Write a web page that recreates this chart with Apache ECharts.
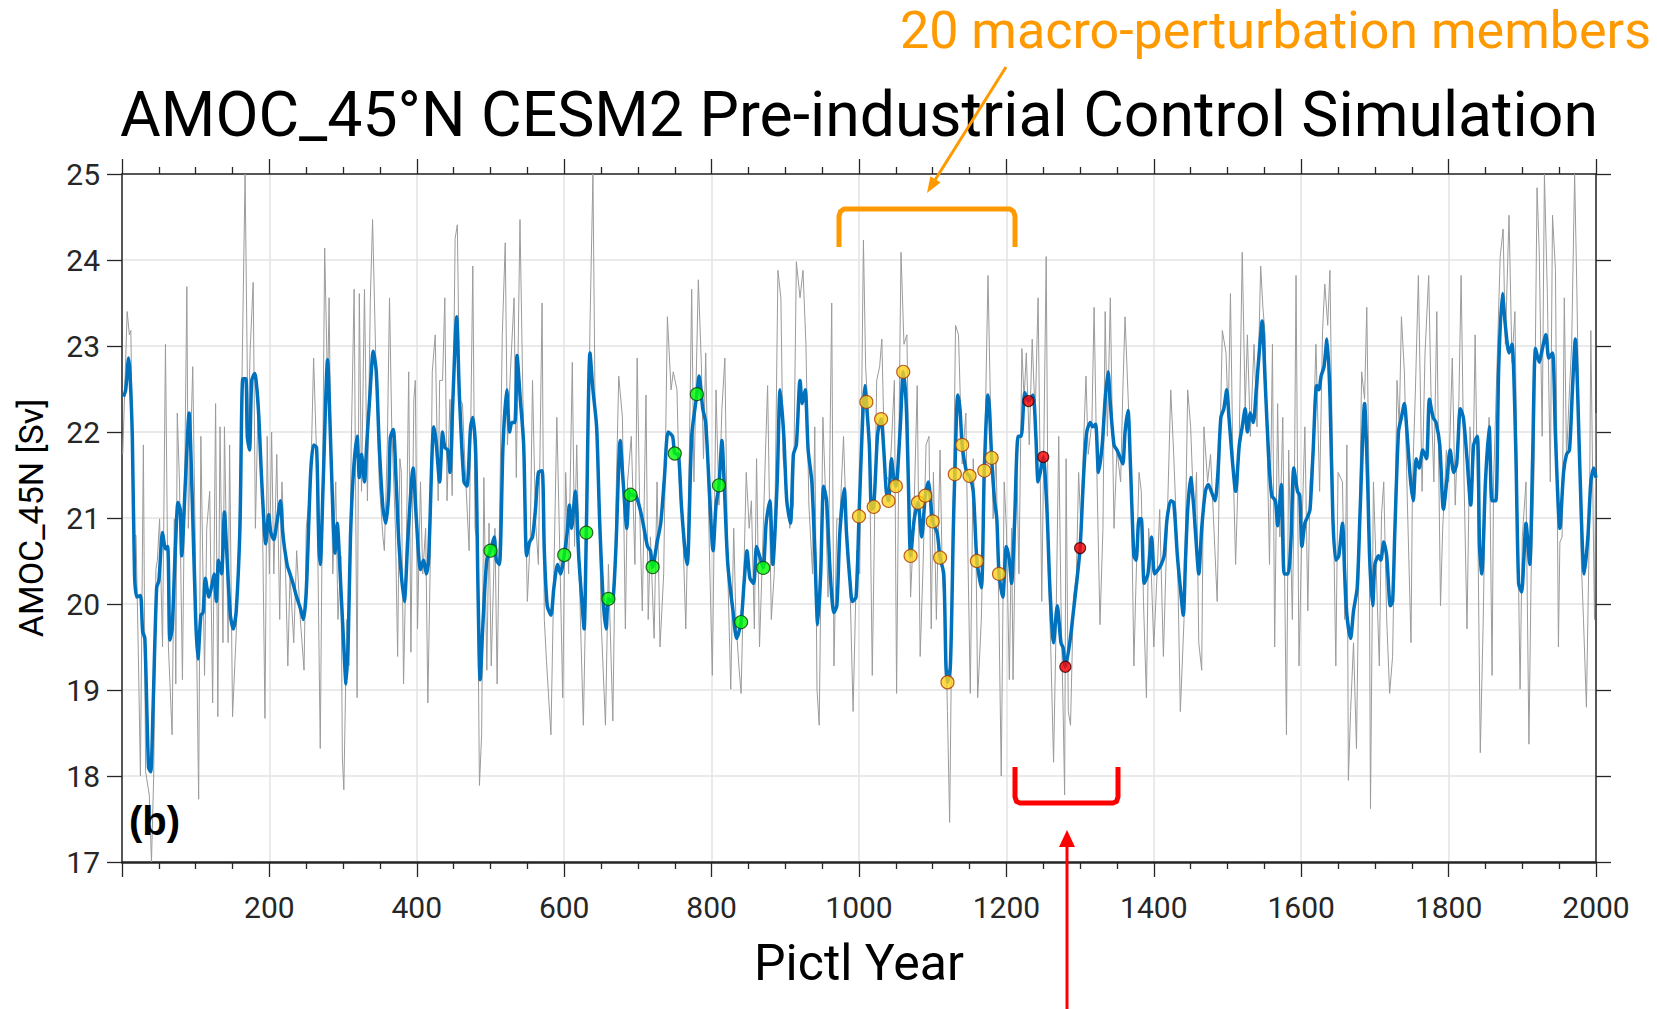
<!DOCTYPE html>
<html lang="en">
<head>
<meta charset="UTF-8">
<title>AMOC_45°N CESM2 Pre-industrial Control Simulation</title>
<script src="https://cdn.jsdelivr.net/npm/echarts@6/dist/echarts.min.js"></script>
<style>
  html, body { margin: 0; padding: 0; background: #fff; }
  #chart { width: 1657px; height: 1009px; }
</style>
</head>
<body>
<div id="chart"></div>
<script>
// annual AMOC at 45N (grey), [year, Sv] (spike tips)
const annualSeries = [
  [1,21.74],[7,23.4],[10,23.13],[12,23.18],[16,20.78],[19,20.8],[22,19.5],[25,18.0],[29,21.85],[32,18.05],[37,17.78],[40,17.0],[43,18.0],[46,20.4],[48,20.51],[51,20.99],[55,19.5],[59,23.02],[63,19.5],[68,18.48],[71,20.99],[73,19.07],[75,22.22],[78,21.42],[82,19.12],[88,23.69],[90,20.88],[96,22.76],[100,20.35],[104,17.73],[107,21.95],[112,19.17],[115,20.88],[119,21.31],[123,18.85],[127,22.33],[130,18.69],[133,22.06],[137,19.55],[139,22.06],[144,19.55],[146,21.85],[150,18.69],[153,19.28],[155,19.66],[159,20.99],[162,22.17],[167,25.0],[171,21.95],[174,22.97],[178,23.74],[181,20.88],[185,22.49],[190,21.42],[194,18.67],[197,21.95],[200,20.35],[203,22.0],[206,20.35],[210,21.74],[214,19.82],[217,21.42],[222,20.35],[225,19.28],[228,20.35],[233,19.55],[237,20.62],[242,19.82],[247,19.23],[250,20.88],[256,21.42],[260,22.86],[264,21.74],[269,18.32],[275,24.14],[279,22.49],[281,23.56],[283,22.06],[286,20.35],[290,21.42],[293,19.82],[297,20.56],[299,18.21],[301,17.84],[305,19.82],[308,19.28],[311,21.85],[315,23.66],[319,18.91],[322,23.61],[325,21.31],[329,23.66],[333,21.2],[337,23.56],[340,24.47],[345,22.6],[349,21.42],[354,20.78],[356,20.62],[360,21.85],[363,23.56],[366,22.06],[371,20.88],[374,19.39],[377,21.69],
  [379,21.53],[382,19.07],[386,20.78],[389,22.7],[392,19.44],[396,22.38],[398,22.6],[401,19.71],[405,21.42],[408,20.35],[412,20.88],[415,18.85],[418,20.35],[421,22.7],[425,23.13],[429,21.2],[431,22.6],[435,22.6],[438,23.56],[441,21.2],[445,22.38],[448,21.26],[452,24.25],[455,24.41],[458,22.38],[462,22.33],[465,21.69],[471,20.62],[476,23.93],[479,20.88],[482,20.72],[485,17.89],[488,18.48],[491,21.47],[495,19.23],[498,20.94],[501,19.28],[506,20.88],[509,19.07],[513,21.42],[516,23.13],[520,24.2],[523,21.85],[527,22.7],[532,23.56],[535,21.47],[540,24.47],[544,22.38],[547,21.42],[550,20.03],[554,20.78],[557,22.6],[561,20.99],[565,20.46],[570,23.5],[573,19.82],[576,19.33],[582,18.48],[586,20.35],[590,22.17],[594,20.62],[598,18.91],[602,21.53],[606,20.35],[611,22.81],[614,20.67],[617,21.85],[622,19.82],[626,18.59],[631,20.88],[635,23.24],[639,25.0],[642,22.22],[647,21.53],[650,19.82],[656,18.59],[660,20.46],[666,18.64],[670,21.1],[674,22.65],[679,22.17],[683,19.71],[686,21.42],[691,21.95],[696,20.46],[699,22.86],[703,20.88],[706,19.92],[711,22.43],[714,19.82],[717,20.78],[722,19.6],[726,21.42],[730,19.5],[735,20.35],[740,23.34],[745,22.49],[748,22.7],[753,22.49],[756,21.42],[760,21.1],[765,19.71],[770,21.85],
  [773,23.66],[776,21.42],[782,23.77],[786,22.81],[789,21.69],[792,22.92],[797,20.62],[801,19.17],[806,22.49],[810,21.15],[814,22.27],[818,22.86],[822,20.35],[826,19.01],[830,20.88],[833,19.82],[837,19.28],[840,18.96],[843,20.08],[847,21.53],[851,20.88],[854,21.2],[858,19.71],[861,21.69],[865,19.5],[869,20.56],[873,21.74],[876,22.54],[881,19.82],[885,20.35],[890,23.88],[894,23.56],[897,21.69],[901,21.42],[906,20.88],[911,21.15],[915,23.98],[920,23.56],[924,23.88],[928,23.02],[932,21.15],[937,20.35],[940,22.06],[943,19.01],[946,18.59],[951,22.17],[954,21.42],[958,20.08],[963,23.5],[966,19.28],[970,20.99],[974,20.99],[979,21.95],[983,20.88],[988,20.14],[992,18.75],[997,20.62],[1001,20.35],[1006,24.23],[1009,22.76],[1014,21.95],[1018,19.17],[1024,22.6],[1028,22.76],[1031,23.08],[1035,21.53],[1041,21.42],[1044,21.85],[1048,22.6],[1051,18.96],[1055,22.6],[1057,24.09],[1061,23.02],[1065,23.13],[1070,20.08],[1074,20.88],[1079,22.54],[1083,19.39],[1087,20.46],[1091,21.85],[1095,21.95],[1098,19.71],[1101,21.53],[1105,19.82],[1110,21.79],[1113,20.35],[1117,19.82],[1120,18.75],[1123,17.46],[1126,19.82],[1131,23.24],[1135,23.13],[1140,21.63],[1145,22.22],[1148,20.46],[1151,18.96],
  [1155,21.69],[1159,20.46],[1161,18.91],[1166,19.82],[1169,20.99],[1175,23.82],[1178,22.49],[1182,20.99],[1186,21.74],[1190,19.82],[1193,18.0],[1197,21.42],[1200,20.88],[1204,19.12],[1207,20.88],[1209,19.12],[1214,21.69],[1217,20.35],[1221,22.97],[1224,22.38],[1227,22.92],[1231,21.85],[1235,23.08],[1239,22.17],[1243,23.56],[1246,21.42],[1248,20.03],[1251,22.0],[1254,24.04],[1257,20.35],[1260,19.55],[1264,18.16],[1267,19.55],[1271,21.95],[1274,20.03],[1277,18.75],[1279,17.78],[1281,21.69],[1284,18.75],[1287,18.59],[1291,20.08],[1295,20.35],[1298,21.53],[1301,20.88],[1305,21.95],[1308,22.65],[1311,21.74],[1316,22.11],[1319,23.45],[1323,21.42],[1327,19.76],[1331,20.88],[1334,23.4],[1337,21.95],[1341,23.56],[1346,20.88],[1350,21.79],[1355,21.42],[1358,22.49],[1361,23.34],[1366,22.22],[1369,21.53],[1373,19.28],[1375,19.98],[1380,21.53],[1383,21.31],[1386,20.03],[1390,18.91],[1393,20.88],[1396,20.51],[1400,19.5],[1405,20.46],[1408,21.1],[1413,19.39],[1418,20.88],[1423,22.49],[1427,21.74],[1432,20.62],[1436,18.75],[1441,19.82],[1446,22.49],[1450,22.06],[1455,20.88],[1458,21.53],[1461,19.55],[1465,19.23],[1468,22.06],[1473,21.42],[1477,21.74],[1481,20.99],[1486,20.03],[1490,21.95],[1493,23.18],[1498,22.92],[1501,22.17],[1504,23.61],[1507,21.85],[1511,20.46],[1516,21.95],[1520,24.09],[1524,22.27],[1527,23.13],[1531,21.95],[1536,23.02],[1540,22.06],[1545,23.93],[1548,23.45],[1551,23.13],[1555,21.31],
  [1557,20.46],[1561,23.02],[1564,19.5],[1568,22.33],[1571,20.78],[1575,22.17],[1580,18.48],[1583,21.79],[1588,19.82],[1591,21.63],[1593,23.82],[1597,19.28],[1601,20.88],[1605,22.06],[1609,19.92],[1612,21.42],[1616,21.85],[1620,23.02],[1625,21.31],[1629,23.18],[1632,23.72],[1636,23.24],[1639,23.88],[1642,21.95],[1647,19.28],[1650,21.53],[1656,21.42],[1659,19.82],[1662,21.85],[1664,17.95],[1667,18.75],[1671,19.55],[1675,18.32],[1679,20.88],[1682,22.7],[1686,22.38],[1689,23.45],[1692,21.42],[1694,17.62],[1698,21.42],[1701,20.62],[1706,19.28],[1709,21.04],[1712,21.42],[1716,19.82],[1720,18.96],[1724,19.39],[1727,20.88],[1730,22.6],[1733,22.06],[1736,23.34],[1740,22.7],[1744,21.2],[1749,19.55],[1751,21.42],[1755,22.49],[1759,23.82],[1764,21.31],[1768,22.92],[1773,23.82],[1776,22.49],[1780,21.42],[1784,23.4],[1789,19.98],[1792,20.88],[1797,21.79],[1800,21.42],[1805,22.86],[1809,21.15],[1814,22.38],[1817,23.82],[1821,21.42],[1825,19.71],[1829,22.06],[1833,21.42],[1836,23.13],[1839,21.42],[1843,18.27],[1847,19.82],[1850,21.42],[1855,22.17],[1859,19.17],[1861,21.42],[1866,22.86],[1870,24.04],[1874,24.36],[1877,23.02],[1882,24.52],[1886,22.81],[1890,23.4],[1893,21.42],[1897,19.01],[1900,20.78],[1905,21.42],[1909,18.37],[1912,20.35],[1916,21.53],[1920,24.84],[1923,24.09],[1927,21.95],[1930,25.0],[1934,23.61],[1938,21.42],[1941,24.52],[1945,23.88],[1949,19.5],[1951,20.72],
  [1954,20.78],[1957,23.56],[1960,21.69],[1964,22.49],[1967,23.02],[1971,25.0],[1974,23.66],[1977,22.06],[1980,20.51],[1983,19.82],[1987,18.8],[1991,20.88],[1993,23.18],[1996,21.1],[1998,19.82],[2000,22.22]
];

// smoothed AMOC (blue), [year, Sv]
const smoothSeries = [
  [2,22.41],[5,22.49],[9,22.86],[11,22.65],[14,21.95],[17,20.35],[20,20.08],[25,20.1],[28,19.68],[31,19.6],[36,18.1],[39,18.05],[42,18.75],[47,20.19],[50,20.27],[55,20.83],[59,20.64],[62,20.67],[65,19.58],[68,19.71],[72,20.56],[76,21.18],[79,21.1],[81,20.56],[86,21.42],[91,22.22],[95,21.31],[100,19.82],[103,19.36],[107,19.87],[110,19.9],[113,20.3],[118,20.08],[122,20.22],[125,20.35],[128,20.03],[131,20.51],[135,20.35],[139,21.07],[142,20.62],[147,19.87],[151,19.71],[155,19.92],[160,20.88],[164,22.62],[168,22.62],[170,21.95],[173,21.79],[176,22.6],[180,22.68],[185,22.27],[189,21.53],[192,21.04],[195,20.7],[199,21.04],[202,20.83],[206,20.75],[210,20.94],[215,21.2],[218,20.83],[224,20.46],[228,20.35],[232,20.24],[237,20.08],[242,19.95],[246,19.82],[250,20.14],[256,21.53],[260,21.85],[264,21.82],[267,20.72],[269,20.46],[273,21.42],[279,22.84],[282,22.17],[286,21.1],[289,20.59],[292,20.94],[296,20.35],[301,19.5],[304,19.07],[307,19.6],[310,20.78],[314,21.53],[319,21.95],[322,21.47],[325,21.74],[329,21.42],[332,21.85],[336,22.38],[341,22.94],[345,22.7],[349,21.85],[354,21.12],[358,20.94],[362,21.31],[364,21.93],[368,22.03],[372,21.42],
  [376,20.67],[383,20.03],[388,20.78],[395,21.58],[399,21.04],[405,20.4],[409,20.51],[413,20.35],[416,20.51],[423,22.06],[426,21.9],[431,21.42],[435,22.0],[438,21.82],[442,21.79],[445,21.53],[449,22.38],[454,23.34],[458,22.38],[464,21.42],[468,21.37],[473,22.06],[476,22.17],[480,21.74],[483,20.19],[486,19.12],[490,19.82],[495,20.51],[500,20.62],[505,20.78],[508,20.51],[512,20.46],[517,21.85],[522,22.49],[526,22.0],[529,22.11],[533,22.11],[536,22.89],[540,22.43],[545,21.85],[549,20.56],[553,20.72],[557,20.78],[561,21.1],[565,21.53],[570,21.55],[573,20.62],[577,19.98],[582,19.87],[586,20.19],[591,20.46],[595,20.35],[600,20.57],[604,20.83],[607,21.15],[610,20.88],[615,21.31],[620,20.51],[624,20.03],[627,19.71],[630,20.83],[635,22.92],[639,22.49],[644,22.06],[648,20.99],[653,20.03],[657,19.71],[660,20.06],[665,20.03],[670,20.62],[676,21.9],[680,21.42],[685,20.88],[688,21.31],[690,21.27],[697,21.26],[703,21.1],[707,20.94],[713,20.67],[717,20.62],[720,20.43],[726,20.72],[731,20.94],[736,21.47],[741,22.0],[747,21.95],[750,21.75],[755,21.74],[759,21.15],[764,20.62],[767,20.46],
  [773,21.95],[780,22.44],[783,22.65],[788,22.27],[792,22.11],[797,21.31],[802,20.62],[806,21.15],[810,21.38],[814,21.9],[817,21.42],[822,20.46],[829,19.92],[834,19.6],[840,19.79],[844,20.24],[848,20.62],[852,20.3],[857,20.24],[861,20.67],[865,20.56],[870,20.42],[874,20.94],[879,21.2],[883,20.46],[889,21.42],[893,22.49],[898,21.95],[902,21.2],[907,20.94],[911,21.74],[915,21.85],[920,22.6],[923,22.33],[927,22.49],[931,21.79],[936,21.42],[940,20.62],[944,19.76],[948,20.35],[952,21.37],[956,21.2],[961,20.35],[966,19.9],[970,19.98],[974,20.83],[980,21.34],[983,20.83],[988,20.24],[991,20.03],[996,20.08],[1000,21.02],[1005,22.17],[1008,22.54],[1010,22.35],[1014,21.85],[1017,21.1],[1020,21.13],[1025,21.95],[1028,22.11],[1030,22.15],[1034,21.74],[1037,21.31],[1040,21.2],[1044,21.69],[1047,21.47],[1050,21.37],[1056,22.06],[1060,22.7],[1064,22.33],[1067,21.42],[1070,20.56],[1075,20.99],[1080,21.18],[1085,20.78],[1090,21.26],[1094,21.42],[1100,20.96],[1106,20.83],[1110,20.54],[1115,20.35],[1118,19.28],[1120,19.09],[1124,19.28],[1128,20.88],[1130,21.51],[1134,22.43],[1137,22.27],[1140,21.85],[1146,21.53],[1150,21.49],
  [1155,21.31],[1160,20.5],[1166,20.19],[1170,21.55],[1175,22.43],[1177,22.27],[1180,21.7],[1184,21.2],[1187,20.99],[1190,20.35],[1195,20.08],[1200,20.67],[1204,20.51],[1207,20.24],[1211,20.94],[1216,21.95],[1220,21.95],[1225,22.46],[1230,22.36],[1236,22.43],[1240,21.95],[1243,21.42],[1246,21.53],[1250,21.71],[1255,21.1],[1259,20.19],[1264,19.55],[1269,19.98],[1274,19.55],[1277,19.49],[1280,19.27],[1286,19.55],[1291,19.92],[1296,20.3],[1300,20.65],[1305,21.53],[1309,22.0],[1314,22.11],[1317,22.06],[1321,22.09],[1325,21.53],[1330,21.85],[1334,22.38],[1338,22.7],[1341,22.33],[1346,21.85],[1350,21.79],[1355,21.69],[1358,21.63],[1361,22.0],[1365,22.25],[1368,21.69],[1373,20.56],[1376,20.51],[1380,20.99],[1383,20.99],[1387,20.24],[1392,20.35],[1397,20.78],[1401,20.35],[1406,20.4],[1410,20.46],[1414,20.56],[1418,20.99],[1423,21.2],[1427,21.18],[1432,20.56],[1436,20.19],[1440,19.87],[1443,20.51],[1446,21.1],[1450,21.47],[1454,21.15],[1457,20.78],[1461,20.35],[1465,20.88],[1470,21.31],[1474,21.39],[1478,21.31],[1483,21.2],[1487,21.53],[1491,22.17],[1495,22.27],[1499,22.49],[1502,22.17],[1507,21.63],[1511,21.31],[1516,21.85],[1520,22.06],[1524,22.27],[1527,22.0],[1531,22.22],[1535,22.11],[1539,22.49],[1543,22.92],[1547,23.29],
  [1551,22.6],[1556,21.69],[1560,21.26],[1565,21.2],[1568,20.91],[1573,21.39],[1577,20.35],[1582,20.35],[1586,20.72],[1590,21.58],[1595,21.31],[1598,21.26],[1601,20.67],[1605,20.94],[1609,21.02],[1612,21.1],[1616,21.74],[1621,22.54],[1624,22.49],[1627,22.65],[1631,22.76],[1635,23.08],[1639,22.43],[1643,20.99],[1647,20.51],[1651,20.56],[1656,20.94],[1659,20.35],[1662,19.87],[1667,19.6],[1671,19.92],[1676,20.19],[1680,21.1],[1686,22.33],[1690,21.47],[1693,20.51],[1697,19.98],[1700,20.46],[1705,20.56],[1708,20.51],[1712,20.72],[1716,20.56],[1721,19.98],[1724,20.03],[1727,20.83],[1732,22.0],[1736,22.17],[1740,22.33],[1743,22.06],[1748,21.47],[1752,21.2],[1756,21.69],[1760,21.58],[1765,21.79],[1770,21.69],[1774,22.38],[1779,22.17],[1783,22.11],[1788,21.85],[1793,21.1],[1798,21.47],[1802,21.79],[1807,21.53],[1811,21.63],[1816,22.27],[1820,22.17],[1825,21.69],[1830,21.15],[1834,21.85],[1839,21.95],[1842,20.67],[1845,20.35],[1850,21.42],[1855,22.06],[1859,21.2],[1864,21.2],[1868,22.76],[1873,23.61],[1877,23.24],[1882,22.92],[1886,23.02],[1891,21.85],[1895,20.24],[1899,20.14],[1902,20.51],[1905,20.94],[1910,20.46],[1914,21.69],[1918,22.97],[1923,22.81],[1926,22.92],[1932,23.13],[1936,22.86],[1941,22.92],[1945,21.95],
  [1951,20.88],[1956,21.53],[1960,21.74],[1964,21.79],[1968,22.49],[1972,23.08],[1975,22.49],[1980,21.04],[1984,20.35],[1989,20.78],[1993,21.42],[1997,21.58],[2000,21.47]
];

// selected start years
const greenYears  = [500, 600, 630, 660, 690, 720, 750, 780, 810, 840, 870];
const greenValues = [20.62, 20.57, 20.83, 20.06, 21.27, 20.43, 21.75, 22.44, 21.38, 19.79, 20.42];

const yellowYears  = [1000, 1010, 1020, 1030, 1040, 1050, 1060, 1070, 1080, 1090, 1100, 1110, 1120, 1130, 1140, 1150, 1160, 1170, 1180, 1190];
const yellowValues = [21.02, 22.35, 21.13, 22.15, 21.2, 21.37, 22.7, 20.56, 21.18, 21.26, 20.96, 20.54, 19.09, 21.51, 21.85, 21.49, 20.5, 21.55, 21.7, 20.35];

const redYears  = [1230, 1250, 1280, 1300];
const redValues = [22.36, 21.71, 19.27, 20.65];

const zip = (xs, ys) => xs.map((x, i) => [x, ys[i]]);

const chart = echarts.init(document.getElementById('chart'), null, { renderer: 'svg' });

const axisColor = '#262626';
const gridColor = '#e3e3e3';
const tickFont = { fontFamily: 'Roboto', fontSize: 30, color: axisColor };

const option = {
  backgroundColor: '#fff',
  animation: false,
  grid: { left: 122, top: 174, width: 1474, height: 688 },
  xAxis: [
    {
      type: 'value', position: 'bottom', min: 0, max: 2000, interval: 200,
      name: 'Pictl Year', nameLocation: 'middle', nameGap: 76,
      nameTextStyle: { fontFamily: 'Roboto', fontSize: 50, color: '#000' },
      axisLine: { show: true, onZero: false, lineStyle: { color: axisColor, width: 2.5 } },
      axisTick: { show: true, length: 15, lineStyle: { color: axisColor, width: 1.3 } },
      minorTick: { show: true, splitNumber: 4, length: 7, lineStyle: { color: axisColor, width: 1.3 } },
      splitLine: { show: true, lineStyle: { color: gridColor, width: 1.5 } },
      axisLabel: Object.assign({ margin: 30, formatter: v => (v === 0 ? '' : String(v)) }, tickFont)
    },
    {
      type: 'value', position: 'top', min: 0, max: 2000, interval: 200,
      axisLine: { show: true, onZero: false, lineStyle: { color: axisColor, width: 1.5 } },
      axisTick: { show: true, length: 15, lineStyle: { color: axisColor, width: 1.3 } },
      minorTick: { show: true, splitNumber: 4, length: 7, lineStyle: { color: axisColor, width: 1.3 } },
      splitLine: { show: false },
      axisLabel: { show: false }
    }
  ],
  yAxis: [
    {
      type: 'value', position: 'left', min: 17, max: 25, interval: 1,
      name: 'AMOC_45N [Sv]', nameLocation: 'middle', nameGap: 74,
      nameTextStyle: { fontFamily: 'Roboto', fontSize: 34, color: '#000' },
      axisLine: { show: true, onZero: false, lineStyle: { color: axisColor, width: 1.5 } },
      axisTick: { show: true, length: 15, lineStyle: { color: axisColor, width: 1.3 } },
      splitLine: { show: true, lineStyle: { color: gridColor, width: 1.5 } },
      axisLabel: Object.assign({ margin: 22 }, tickFont)
    },
    {
      type: 'value', position: 'right', min: 17, max: 25, interval: 1,
      axisLine: { show: true, onZero: false, lineStyle: { color: axisColor, width: 1.5 } },
      axisTick: { show: true, length: 15, lineStyle: { color: axisColor, width: 1.3 } },
      splitLine: { show: false },
      axisLabel: { show: false }
    }
  ],
  series: [
    {
      name: 'annual', type: 'line', data: annualSeries, showSymbol: false, symbol: 'none',
      lineStyle: { color: '#9b9b9b', width: 1 }, z: 2
    },
    {
      name: 'smoothed', type: 'line', data: smoothSeries, showSymbol: false, symbol: 'none',
      smooth: 0.25, lineStyle: { color: '#0072BD', width: 3.5 }, z: 3
    },
    {
      name: 'green', type: 'scatter', data: zip(greenYears, greenValues), symbolSize: 13,
      itemStyle: { color: '#00FF00', borderColor: '#0b3d0b', borderWidth: 1.2 }, z: 5
    },
    {
      name: 'macro', type: 'scatter', data: zip(yellowYears, yellowValues), symbolSize: 13,
      itemStyle: { color: '#FFD21A', borderColor: '#a63a00', borderWidth: 1.2 }, z: 5
    },
    {
      name: 'red', type: 'scatter', data: zip(redYears, redValues), symbolSize: 11,
      itemStyle: { color: '#FF0000', borderColor: '#3a0000', borderWidth: 1.2 }, z: 5
    }
  ],
  graphic: [
    {
      type: 'text', x: 859, y: 114, z: 10,
      style: {
        text: 'AMOC_45°N CESM2 Pre-industrial Control Simulation',
        font: 'normal 62.5px Roboto', fill: '#000',
        textAlign: 'center', textVerticalAlign: 'middle', verticalAlign: 'middle'
      }
    },
    {
      type: 'text', x: 900, y: 30, z: 10,
      style: {
        text: '20 macro-perturbation members',
        font: 'normal 52px Roboto', fill: '#FF9900',
        textAlign: 'left', textVerticalAlign: 'middle', verticalAlign: 'middle'
      }
    },
    {
      type: 'text', x: 129, y: 821, z: 10,
      style: {
        text: '(b)', font: 'bold 40px "Liberation Sans", Arial', fill: '#000',
        textAlign: 'left', textVerticalAlign: 'middle', verticalAlign: 'middle'
      }
    },
    // orange arrow
    {
      type: 'line', z: 10,
      shape: { x1: 1006, y1: 67, x2: 935, y2: 180 },
      style: { stroke: '#FF9900', lineWidth: 3 }
    },
    {
      type: 'polygon', z: 10,
      shape: { points: [[927, 193], [940.6, 182.6], [930.4, 176.2]] },
      style: { fill: '#FF9900' }
    },
    // orange bracket
    {
      type: 'polyline', z: 10,
      shape: { points: [[839, 247], [839, 216], [840.5, 211.5], [844, 209], [1010, 209], [1013.5, 211.5], [1015, 216], [1015, 247]] },
      style: { stroke: '#FF9900', lineWidth: 5, fill: null, lineJoin: 'round' }
    },
    // red bracket
    {
      type: 'polyline', z: 10,
      shape: { points: [[1015, 767], [1015, 797], [1016.5, 801.5], [1020, 803], [1113, 803], [1116.5, 801.5], [1118, 797], [1118, 767]] },
      style: { stroke: '#FF0000', lineWidth: 5, fill: null, lineJoin: 'round' }
    },
    // red arrow
    {
      type: 'line', z: 10,
      shape: { x1: 1067, y1: 1009, x2: 1067, y2: 845 },
      style: { stroke: '#FF0000', lineWidth: 3 }
    },
    {
      type: 'polygon', z: 10,
      shape: { points: [[1067, 830], [1059, 847], [1075, 847]] },
      style: { fill: '#FF0000' }
    }
  ]
};

chart.setOption(option);
</script>
</body>
</html>
